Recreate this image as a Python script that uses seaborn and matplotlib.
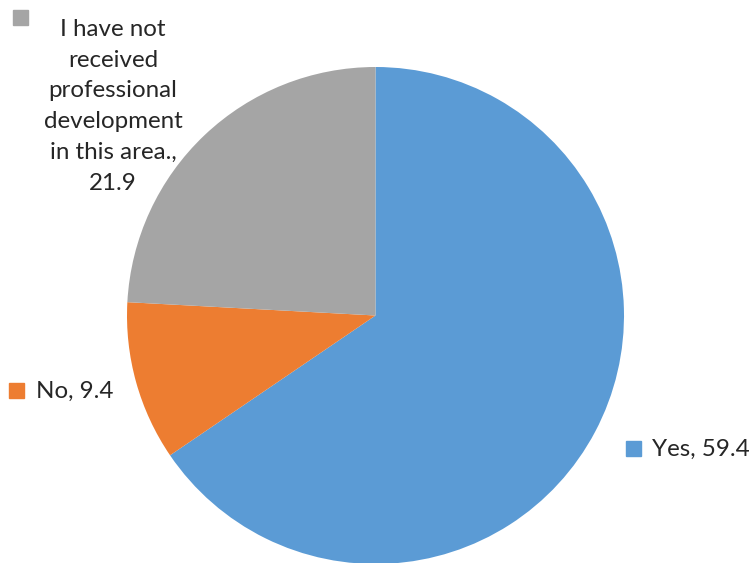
import matplotlib
matplotlib.use("Agg")
import matplotlib.pyplot as plt
import seaborn as sns

labels = ["Yes", "No", "I have not\nreceived\nprofessional\ndevelopment\nin this area."]
values = [59.4, 9.4, 21.9]
colors = ["#5B9BD5", "#ED7D31", "#A5A5A5"]

sns.set_style("white")
plt.rcParams["font.family"] = ["Lato", "DejaVu Sans"]

W, H = 753, 563
fig = plt.figure(figsize=(W / 100, H / 100), dpi=100)
cx, cy, r = 375.5, 315.5, 248.5
ax = fig.add_axes([(cx - r) / W, (H - cy - r) / H, 2 * r / W, 2 * r / H])
ax.pie(values, colors=colors, startangle=90, counterclock=False,
       wedgeprops=dict(linewidth=0), radius=1)
ax.set_xlim(-1, 1)
ax.set_ylim(-1, 1)
ax.set_aspect("equal")
ax.axis("off")

# label positions in pixels (text anchor, marker centre)
fs = 17.4
def px(x, y):
    return x / W, 1 - y / H

# Yes
fig.patches.append(plt.Rectangle(px(626, 456), 15 / W, 15 / H, color=colors[0],
                                 transform=fig.transFigure))
fig.text(*px(652, 449), f"{labels[0]}, {values[0]}", fontsize=fs, va="center", ha="left")
# No
fig.patches.append(plt.Rectangle(px(9, 398), 15 / W, 15 / H, color=colors[1],
                                 transform=fig.transFigure))
fig.text(*px(36, 391), f"{labels[1]}, {values[1]}", fontsize=fs, va="center", ha="left")
# Not received
fig.patches.append(plt.Rectangle(px(13, 25), 15 / W, 15 / H, color=colors[2],
                                 transform=fig.transFigure))
fig.text(*px(113, 190), f"{labels[2]},\n{values[2]}", fontsize=fs, va="baseline",
         ha="center", multialignment="center", linespacing=1.58)

fig.savefig("out.png", dpi=100)
